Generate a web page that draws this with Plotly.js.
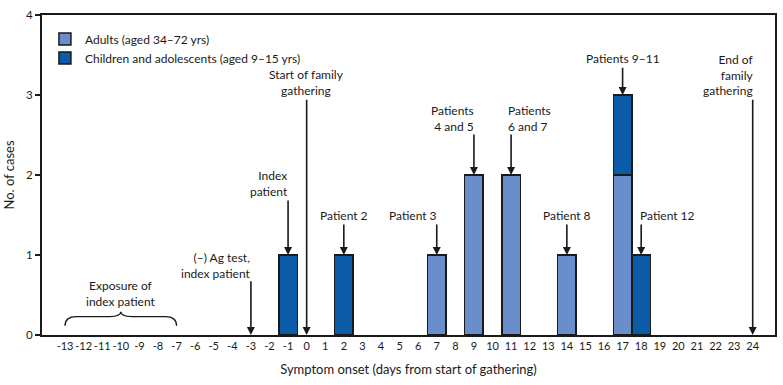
<!DOCTYPE html>
<html><head><meta charset="utf-8">
<script src="https://cdn.plot.ly/plotly-3.0.1.min.js"></script>
<style>html,body{margin:0;padding:0;background:#fff;}#chart{width:783px;height:385px;}</style>
</head><body><div id="chart"></div>
<script>
// Data
const days = [-13,-12,-11,-10,-9,-8,-7,-6,-5,-4,-3,-2,-1,0,1,2,3,4,5,6,7,8,9,10,11,12,13,14,15,16,17,18,19,20,21,22,23,24];
const tickLabels = ["-13","-12","-11","-10","-9","-8","-7","-6","-5","-4","-3","-2","-1","0","1","2","3","4","5","6","7","8","9","10","11","12","13","14","15","16","17","18","19","20","21","22","23","24"];
const adultDays = [7, 9, 11, 14, 17];
const adultCases = [1, 2, 2, 1, 2];
const childDays = [-1, 2, 17, 18];
const childCases = [1, 1, 1, 1];
const seriesNames = ["Adults (aged 34–72 yrs)", "Children and adolescents (aged 9–15 yrs)"];
const yTicks = [0, 1, 2, 3, 4];

// Event labels: [text, x of arrow, y of arrow tip, y of arrow tail, x of text, y of text, align]
const eventLabels = [
  ["(–) Ag test,<br>index patient", -3, 0, 0.69, -2.9, 0.875, "right"],
  ["Index<br>patient", -1, 1, 1.70, -0.9, 1.89, "right"],
  ["Start of family<br>gathering", 0, 0, 2.96, 0, 3.16, "center"],
  ["Patient 2", 2, 1, 1.40, 2, 1.49, "center"],
  ["Patient 3", 7, 1, 1.40, 7.1, 1.49, "right"],
  ["Patients<br>4 and 5", 9, 2, 2.525, 9.1, 2.71, "right"],
  ["Patients<br>6 and 7", 11, 2, 2.525, 10.73, 2.71, "left"],
  ["Patient 8", 14, 1, 1.40, 14, 1.49, "center"],
  ["Patients 9–11", 17, 3, 3.36, 17, 3.46, "center"],
  ["Patient 12", 18, 1, 1.40, 17.83, 1.49, "left"],
  ["End of<br>family<br>gathering", 24, 0, 2.96, 24.12, 3.25, "right"]
];
const exposureLabel = ["Exposure of<br>index patient", -10, 0.525];
const exposureRange = [-13, -7];

const FONT = "Lato, 'Open Sans', sans-serif";
const TXT = "#1a1a1a";

const traces = [
  {type: "bar", name: seriesNames[0], x: adultDays, y: adultCases, width: 1,
   marker: {color: "#6a8dcb", line: {color: "#1a1a1a", width: 1.5}}},
  {type: "bar", name: seriesNames[1], x: childDays, y: childCases, width: 1,
   marker: {color: "#0b5ba6", line: {color: "#1a1a1a", width: 1.5}}}
];

const annotations = [];
eventLabels.forEach(e => {
  const [text, xa, ytip, ytail, xt, yt, al] = e;
  annotations.push({x: xa, y: ytip, ax: xa, ay: ytail, axref: "x", ayref: "y", xref: "x", yref: "y",
    text: "", showarrow: true, arrowhead: 2, arrowsize: 1, arrowwidth: 1.6, arrowcolor: "#1a1a1a"});
  annotations.push({x: xt, y: yt, xref: "x", yref: "y", text: text, showarrow: false,
    align: al, xanchor: al === "center" ? "center" : al, yanchor: "middle",
    font: {family: FONT, size: 12, color: TXT}});
});
annotations.push({x: exposureLabel[1], y: exposureLabel[2], xref: "x", yref: "y", text: exposureLabel[0],
  showarrow: false, align: "center", font: {family: FONT, size: 12, color: TXT}});

const a = exposureRange[0], b = exposureRange[1], m = (a + b) / 2;
const bracePath = `M ${a},0.115 Q ${a},0.23 ${a+0.6},0.23 L ${m-0.6},0.23 Q ${m},0.23 ${m},0.29 Q ${m},0.23 ${m+0.6},0.23 L ${b-0.6},0.23 Q ${b},0.23 ${b},0.115`;

const layout = {
  width: 783, height: 385,
  margin: {l: 42, r: 8, t: 15, b: 50},
  paper_bgcolor: "#fff", plot_bgcolor: "#fff",
  barmode: "stack",
  showlegend: true,
  legend: {x: 0.004, y: 0.97, xanchor: "left", yanchor: "top", bgcolor: "rgba(0,0,0,0)",
    traceorder: "normal", tracegroupgap: 0, itemwidth: 30,
    font: {family: FONT, size: 12, color: TXT}},
  font: {family: FONT, size: 12, color: TXT},
  xaxis: {range: [-14.24, 25.2], tickmode: "array", tickvals: days, ticktext: tickLabels, tickangle: 0,
    showgrid: false, zeroline: false, showline: true, linecolor: "#1a1a1a", linewidth: 2, mirror: true,
    ticks: "", tickfont: {family: FONT, size: 11, color: TXT},
    title: {text: "Symptom onset (days from start of gathering)", font: {family: FONT, size: 13, color: TXT}, standoff: 14}},
  yaxis: {range: [0, 4], tickmode: "array", tickvals: yTicks, showgrid: false, zeroline: false,
    showline: true, linecolor: "#1a1a1a", linewidth: 2, mirror: true,
    ticks: "outside", ticklen: 5, tickwidth: 2, tickcolor: "#1a1a1a",
    tickfont: {family: FONT, size: 11.5, color: TXT},
    title: {text: "No. of cases", font: {family: FONT, size: 13, color: TXT}, standoff: 8}},
  annotations: annotations,
  shapes: [{type: "path", xref: "x", yref: "y", path: bracePath, line: {color: "#1a1a1a", width: 1.3}}]
};

Plotly.newPlot("chart", traces, layout, {staticPlot: true, displayModeBar: false});
</script></body></html>
